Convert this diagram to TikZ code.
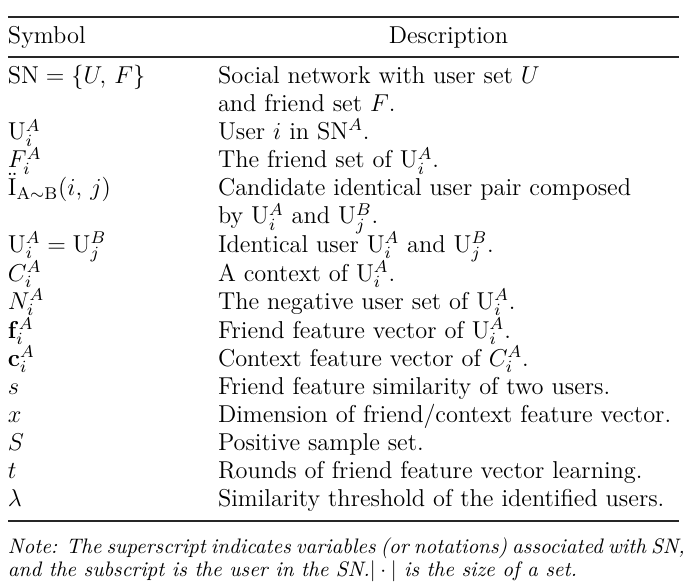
\RequirePackage{fix-cm}
\documentclass[tikz,border=0pt]{standalone}
\tikzset{
  cell/.style={anchor=base west, inner sep=0pt, outer sep=0pt, font=\fontsize{12.2}{14}\selectfont},
  headc/.style={anchor=base, inner sep=0pt, outer sep=0pt, font=\fontsize{12.2}{14}\selectfont},
  notecell/.style={anchor=base west, inner sep=0pt, outer sep=0pt, font=\fontsize{10.5}{12}\selectfont\itshape},
  heavyrule/.style={line width=1pt, draw=black!85},
  lightrule/.style={line width=0.6pt, draw=black!85},
}
\begin{document}
\begin{tikzpicture}[x=0.5pt,y=-0.5pt]
\useasboundingbox (0,0) rectangle (689,587);
% rules
\coordinate (tl) at (8,17);   \coordinate (tr) at (679,17);
\coordinate (ml) at (8,57);   \coordinate (mr) at (679,57);
\coordinate (bl) at (8,521);  \coordinate (br) at (679,521);
\draw[heavyrule] (tl) -- (tr);
\draw[lightrule] (ml) -- (mr);
\draw[heavyrule] (bl) -- (br);
% header
\node[cell] (hs) at (8,44) {Symbol};
\node[headc] (hd) at (448.5,44) {Description};
% rows
\node[cell] (s1) at (8,84) {$\mathrm{SN}=\{U,\, F\}$};
\node[cell] (d1) at (218,84) {Social network with user set $U$};
\node[cell] (d2) at (218,112) {and friend set $F$.};
\node[cell] (s3) at (8,140) {$\mathrm{U}_i^A$};
\node[cell] (d3) at (218,140) {User $i$ in $\mathrm{SN}^A$.};
\node[cell] (s4) at (8,168) {$F_i^A$};
\node[cell] (d4) at (218,168) {The friend set of $\mathrm{U}_i^A$.};
\node[cell] (s5) at (8,196) {$\ddot{\mathrm{I}}_{\mathrm{A\sim B}}(i,\, j)$};
\node[cell] (d5) at (218,196) {Candidate identical user pair composed};
\node[cell] (d6) at (218,224) {by $\mathrm{U}_i^A$ and $\mathrm{U}_j^B$.};
\node[cell] (s7) at (8,252.5) {$\mathrm{U}_i^A=\mathrm{U}_j^B$};
\node[cell] (d7) at (218,252.5) {Identical user $\mathrm{U}_i^A$ and $\mathrm{U}_j^B$.};
\node[cell] (s8) at (8,281) {$C_i^A$};
\node[cell] (d8) at (218,281) {A context of $\mathrm{U}_i^A$.};
\node[cell] (s9) at (8,309.5) {$N_i^A$};
\node[cell] (d9) at (218,309.5) {The negative user set of $\mathrm{U}_i^A$.};
\node[cell] (s10) at (8,338) {$\mathbf{f}_i^A$};
\node[cell] (d10) at (218,338) {Friend feature vector of $\mathrm{U}_i^A$.};
\node[cell] (s11) at (8,366.5) {$\mathbf{c}_i^A$};
\node[cell] (d11) at (218,366.5) {Context feature vector of $C_i^A$.};
\node[cell] (s12) at (8,394.5) {$s$};
\node[cell] (d12) at (218,394.5) {Friend feature similarity of two users.};
\node[cell] (s13) at (8,422.5) {$x$};
\node[cell] (d13) at (218,422.5) {Dimension of friend/context feature vector.};
\node[cell] (s14) at (8,450.5) {$S$};
\node[cell] (d14) at (218,450.5) {Positive sample set.};
\node[cell] (s15) at (8,478.5) {$t$};
\node[cell] (d15) at (218,478.5) {Rounds of friend feature vector learning.};
\node[cell] (s16) at (8,506) {$\lambda$};
\node[cell] (d16) at (218,506) {Similarity threshold of the identified users.};
% note
\node[notecell] (n1) at (8,553) {\makebox[335.5pt][s]{Note: The superscript indicates variables (or notations) associated with SN,}};
\node[notecell] (n2) at (8,576) {and the subscript is the user in the SN.$|\cdot|$ is the size of a set.};
\end{tikzpicture}
\end{document}
